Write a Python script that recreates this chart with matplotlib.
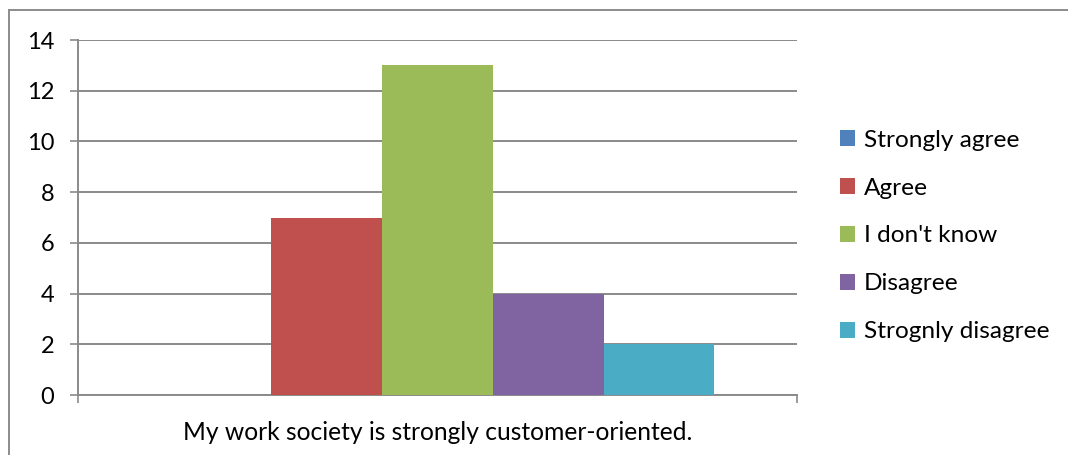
import matplotlib
matplotlib.use("Agg")
import matplotlib.pyplot as plt
from matplotlib.lines import Line2D
from matplotlib.patches import Patch

categories = ["My work society is strongly customer-oriented."]
series = ["Strongly agree", "Agree", "I don't know", "Disagree", "Strognly disagree"]
values = [0, 7, 13, 4, 2]
colors = ["#4F81BD", "#C0504D", "#9BBB59", "#8064A2", "#4BACC6"]
yticks = [0, 2, 4, 6, 8, 10, 12, 14]

plt.rcParams["font.family"] = ["Lato", "DejaVu Sans"]
W, H = 1068, 455
fig = plt.figure(figsize=(W / 100, H / 100), dpi=100)
ax = fig.add_axes([78 / W, 1 - 395 / H, (797 - 78) / W, (395 - 40) / H])

group_width = 0.77
bw = group_width / len(series)
for i, (s, v, c) in enumerate(zip(series, values, colors)):
    x = -group_width / 2 + bw * (i + 0.5)
    ax.bar(x, v, width=bw, color=c, label=s, zorder=3)

ax.set_xlim(-0.5, 0.5)
ax.set_ylim(0, 14)
ax.set_yticks(yticks)
ax.set_yticklabels([str(t) for t in yticks], fontsize=17)
ax.yaxis.grid(True, color="#8a8a8a", linewidth=1.4, zorder=0)
ax.tick_params(axis="y", length=6, width=1.2, color="#8a8a8a", pad=11)

ax.set_xticks([-0.5, 0.5])
ax.set_xticklabels(["", ""])
ax.tick_params(axis="x", length=5.5, width=1.2, color="#8a8a8a")
ax.text(0, -0.072, categories[0], transform=ax.get_xaxis_transform(),
        ha="center", va="top", fontsize=17.7)

for side in ["top", "right"]:
    ax.spines[side].set_visible(False)
for side in ["left", "bottom"]:
    ax.spines[side].set_color("#8a8a8a")
    ax.spines[side].set_linewidth(1.4)

handles = [Patch(facecolor=c, edgecolor="none") for c in colors]
fig.legend(handles, series, loc="center left", bbox_to_anchor=(818 / W, 1 - 236 / H),
           frameon=False, fontsize=17.6, handlelength=0.62, handleheight=0.62,
           handletextpad=0.35, labelspacing=1.1)

# outer frame
fig.add_artist(Line2D([9 / W, 9 / W], [0, 1 - 10 / H], color="#8c8c8c", linewidth=1.4,
                      transform=fig.transFigure))
fig.add_artist(Line2D([9 / W, 1], [1 - 10 / H, 1 - 10 / H], color="#8c8c8c", linewidth=1.4,
                      transform=fig.transFigure))

fig.savefig("out.png", dpi=100, facecolor="white")
